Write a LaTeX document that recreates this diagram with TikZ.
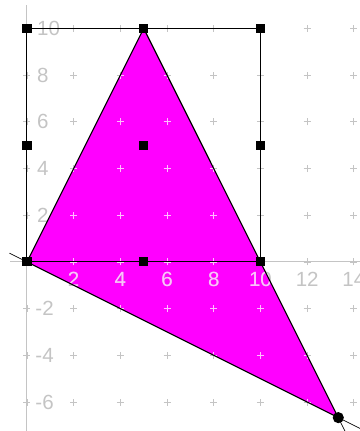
\documentclass[tikz,border=0pt]{standalone}
\usepackage{fontspec}
\setmainfont{Liberation Sans}
\definecolor{axgray}{RGB}{196,196,196}
\definecolor{fillmag}{RGB}{255,0,255}
\definecolor{lightpink}{RGB}{255,190,255}
\begin{document}
\begin{tikzpicture}[x=0.5cm,y=0.5cm,
  sq/.style={draw=none,fill=black,minimum size=5.5pt,inner sep=0pt,outer sep=0pt},
  dot/.style={circle,draw=none,fill=black,minimum size=6.8pt,inner sep=0pt},
  edge/.style={black,line width=0.7pt},
  boxline/.style={black,line width=0.6pt},
  extline/.style={black,line width=0.4pt},
  axis/.style={axgray,line width=0.6pt},
  lbl/.style={font=\fontsize{12.5}{12.5}\selectfont,inner sep=0pt}]
\useasboundingbox (-1.156,-7.24) rectangle (14.26,11.22);
\coordinate (A) at (0,0);
\coordinate (B) at (5,10);
\coordinate (C) at (10,0);
\coordinate (D) at (13.333,-6.667);
\coordinate (R1) at (0,10);
\coordinate (R2) at (10,10);
\coordinate (M1) at (0,5);
\coordinate (M2) at (10,5);
\coordinate (M3) at (5,0);
\coordinate (M4) at (5,5);
\coordinate (EA) at (-0.75,0.375);
\coordinate (ED) at (14.3,-7.15);
\coordinate (EB) at (13.95,-7.9);
\coordinate (xl) at (-0.72,0);
\coordinate (xr) at (14.3,0);
\coordinate (yt) at (0,11.0);
\coordinate (yb) at (0,-7.3);
% fill
\fill[fillmag] (A) -- (B) -- (D) -- cycle;
% axes
\draw[axis] (xl) -- (xr);
\draw[axis] (yt) -- (yb);
% grid marks and labels
\def\gridmarks#1{%
  \foreach \x in {0,2,...,14}{\foreach \y in {-6,-4,...,10}{%
    \draw[#1,line width=0.5pt] (\x-0.15,\y) -- (\x+0.15,\y) (\x,\y-0.15) -- (\x,\y+0.15);}}%
  \foreach \x in {2,4,...,14}{\node[lbl,text=#1] at (\x,-0.75) {\x};}%
  \foreach \y in {10,8,6,4,2}{\node[lbl,text=#1,anchor=west] at (0.42,\y) {\y};}%
  \foreach \y in {-2,-4,-6}{\node[lbl,text=#1,anchor=west] at (0.35,\y) {-\the\numexpr-\y\relax};}%
}
\gridmarks{axgray}
\begin{scope}
\clip (A) -- (B) -- (D) -- cycle;
\gridmarks{lightpink}
\end{scope}
% rectangle
\draw[boxline] (A) -- (R1) -- (R2) -- (C) -- cycle;
% triangle edges
\draw[edge] (A) -- (B) -- (D) -- cycle;
% extensions
\draw[extline] (EA) -- (A);
\draw[extline] (D) -- (ED);
\draw[extline] (D) -- (EB);
% points
\node[sq] (pA) at (A) {};
\node[sq] (pB) at (B) {};
\node[sq] (pC) at (C) {};
\node[sq] (pR1) at (R1) {};
\node[sq] (pR2) at (R2) {};
\node[sq] (pM1) at (M1) {};
\node[sq] (pM2) at (M2) {};
\node[sq] (pM3) at (M3) {};
\node[sq] (pM4) at (M4) {};
\node[dot] (pD) at (D) {};
\end{tikzpicture}
\end{document}
